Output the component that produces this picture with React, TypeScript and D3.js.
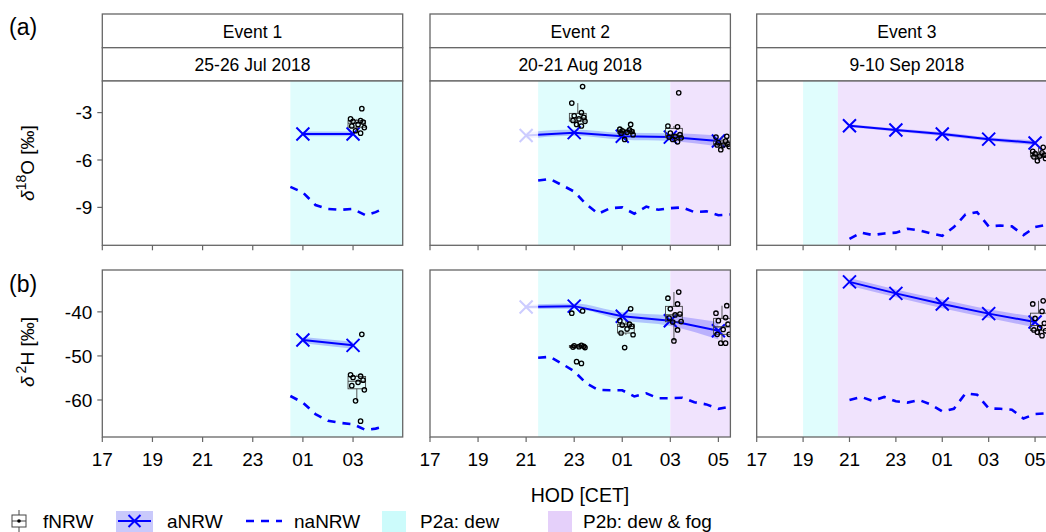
import React from 'react'
import * as d3 from 'd3'

const FONT = 'Liberation Sans, Arial, sans-serif'
const BLUE = '#0000ff'
const DEW = '#e0fdfd'
const FOG = '#f0e3fd'
const FRAME = '#666'

// panels (events)
const EVENTS = ['Event 1', 'Event 2', 'Event 3']
const DATES = ['25-26 Jul 2018', '20-21 Aug 2018', '9-10 Sep 2018']
const X_DOMAINS = [
  [17, 28.98],
  [17, 29.5],
  [17, 29.95],
]
const HOUR_TICKS = [17, 19, 21, 23, 25, 27, 29]
const DEW_START = [24.5, 21.5, 19]
const FOG_START = [null, 27, 20.5]

// y ticks
const O_TICKS = [-3, -6, -9]
const H_TICKS = [-40, -50, -60]

// aNRW (hours after midnight written as 24+)
const ANRW_T = [
  [25, 27],
  [21, 23, 25, 27, 29],
  [21, 23, 25, 27, 29],
]
const ANRW_O = [
  [-4.35, -4.35],
  [-4.45, -4.27, -4.5, -4.55, -4.8],
  [-3.83, -4.1, -4.36, -4.68, -4.92],
]
const ANRW_O_SD = [
  [0.15, 0.15],
  [0.2, 0.2, 0.22, 0.25, 0.35],
  [0.1, 0.1, 0.12, 0.12, 0.15],
]
const ANRW_H = [
  [-46.4, -47.6],
  [-38.9, -38.7, -41.0, -42.0, -44.3],
  [-33.2, -35.8, -38.2, -40.4, -42.3],
]
const ANRW_H_SD = [
  [0.7, 0.8],
  [0.5, 0.6, 0.9, 1.2, 2.0],
  [0.9, 0.9, 1.0, 1.0, 1.2],
]

// naNRW
const NANRW_T = [
  [24.5, 25, 25.5, 26, 26.5, 27, 27.5, 27.9, 28.25],
  [21.5, 22, 22.5, 23, 23.5, 24, 24.5, 25, 25.5, 26, 26.5, 27, 27.5, 28, 28.5, 29, 29.5],
  [21, 21.5, 22, 22.5, 23, 23.5, 24, 24.5, 25, 25.5, 26, 26.5, 27, 27.5, 28, 28.5, 29, 29.5],
]
const NANRW_O = [
  [-7.7, -8.05, -8.85, -9.1, -9.15, -9.1, -9.5, -9.3, -9.05],
  [-7.3, -7.2, -7.6, -8.0, -8.8, -9.4, -9.05, -9.0, -9.4, -8.95, -9.15, -9.05, -9.0, -9.3, -9.25, -9.5, -9.45],
  [-11.0, -10.6, -10.75, -10.65, -10.6, -10.35, -10.45, -10.65, -10.8, -10.25, -9.45, -9.3, -10.2, -10.15, -10.2, -10.75, -10.25, -10.1],
]
const NANRW_H = [
  [-59.1, -60.6, -63.2, -64.7, -65.2, -65.5, -66.8, -66.5, -66.0],
  [-50.4, -50.2, -51.8, -53.5, -56.2, -57.7, -57.8, -57.8, -59.2, -58.5, -59.6, -59.6, -59.5, -60.5, -61.0, -62.0, -61.5],
  [-60.0, -59.3, -60.2, -59.3, -60.3, -60.6, -60.0, -61.0, -62.6, -62.0, -58.5, -58.8, -61.9, -62.0, -62.2, -64.2, -63.2, -63.0],
]

// fNRW samples
const FNRW_O = [
  [{ t: 27, v: [-2.75, -3.4, -3.5, -3.55, -3.6, -3.75, -3.85, -3.95, -4.15, -4.3] }],
  [
    { t: 23, v: [-1.35, -2.4, -3.0, -3.2, -3.3, -3.4, -3.5, -3.55, -3.75, -3.85] },
    { t: 25, v: [-3.75, -4.05, -4.1, -4.15, -4.2, -4.25, -4.3, -4.4, -4.7] },
    { t: 27, v: [-1.75, -3.85, -3.9, -4.3, -4.4, -4.5, -4.55, -4.6, -4.7, -4.85] },
    { t: 29, v: [-4.5, -4.55, -4.8, -4.9, -5.0, -5.05, -5.05, -5.15, -5.35] },
  ],
  [{ t: 29, v: [-5.2, -5.45, -5.55, -5.6, -5.7, -5.75, -5.8, -5.9, -6.05] }],
]
const FNRW_H = [
  [{ t: 27, v: [-45.1, -54.3, -54.6, -54.9, -55.5, -56.0, -56.75, -57.7, -60.2, -64.8] }],
  [
    { t: 23, v: [-39.8, -40.3, -47.6, -47.7, -47.8, -47.9, -48.0, -48.1, -51.3, -51.7] },
    { t: 25, v: [-39.3, -42.0, -42.8, -43.0, -43.3, -43.9, -44.8, -45.2, -48.1] },
    { t: 27, v: [-35.5, -36.9, -38.2, -39.3, -40.5, -40.7, -41.4, -42.2, -42.3, -44.1, -46.6] },
    { t: 29, v: [-38.6, -40.3, -41.3, -42.0, -42.8, -44.0, -45.1, -45.1, -47.1, -47.1] },
  ],
  [{ t: 29, v: [-37.5, -38.2, -39.9, -41.5, -42.6, -43.6, -44.1, -44.3, -44.6, -45.4] }],
]
// horizontal jitter (hours) of the sample points, in order
const JITTER = [0.35, -0.1, 0.3, 0.0, 0.4, 0.2, -0.05, 0.45, 0.1, 0.3, 0.15]

const PANEL_LEFT = [102.3, 430, 756.7]
const PANEL_W = 300.4
const ROWS = [
  { top: 81, bottom: 245.3, domain: [-11.4, -1.0], ticks: O_TICKS, a: ANRW_O, sd: ANRW_O_SD, na: NANRW_O, f: FNRW_O },
  { top: 270, bottom: 437, domain: [-68.4, -30.5], ticks: H_TICKS, a: ANRW_H, sd: ANRW_H_SD, na: NANRW_H, f: FNRW_H },
]

const tickLabel = h => String(h % 24).padStart(2, '0')

function Cross({ x, y, s = 6.5, color = BLUE }) {
  return (
    <path d={`M${x - s},${y - s}L${x + s},${y + s}M${x - s},${y + s}L${x + s},${y - s}`} stroke={color} strokeWidth={2} />
  )
}

function Boxplot({ b, x, y }) {
  const v = [...b.v].sort(d3.ascending)
  const q1 = d3.quantile(v, 0.25)
  const med = d3.quantile(v, 0.5)
  const q3 = d3.quantile(v, 0.75)
  const iqr = q3 - q1
  const lo = d3.min(v.filter(d => d >= q1 - 1.5 * iqr))
  const hi = d3.max(v.filter(d => d <= q3 + 1.5 * iqr))
  const cx = x(b.t + 0.15)
  const hw = x(b.t + 0.35) - x(b.t)
  return (
    <g>
      <line x1={cx} x2={cx} y1={y(hi)} y2={y(q3)} stroke="#444" strokeWidth={0.9} />
      <line x1={cx} x2={cx} y1={y(q1)} y2={y(lo)} stroke="#444" strokeWidth={0.9} />
      <rect x={cx - hw} y={y(q3)} width={2 * hw} height={Math.max(1, y(q1) - y(q3))} fill="none" stroke="#444" strokeWidth={0.9} />
      <line x1={cx - hw} x2={cx + hw} y1={y(med)} y2={y(med)} stroke="#444" strokeWidth={1.2} />
      {b.v.map((d, i) => (
        <circle key={i} cx={x(b.t + JITTER[i % JITTER.length])} cy={y(d)} r={2.2} fill="none" stroke="#000" strokeWidth={1.3} />
      ))}
    </g>
  )
}

function Panel({ p, r }) {
  const row = ROWS[r]
  const left = PANEL_LEFT[p]
  const x = d3.scaleLinear().domain(X_DOMAINS[p]).range([left, left + PANEL_W])
  const y = d3.scaleLinear().domain(row.domain).range([row.bottom, row.top])
  const right = left + PANEL_W
  const h = row.bottom - row.top
  const dewEnd = FOG_START[p] ?? X_DOMAINS[p][1]
  const id = `c${p}${r}`

  const pts = ANRW_T[p].map((t, i) => ({ t, v: row.a[p][i], sd: row.sd[p][i] }))
  const line = d3.line().x(d => x(d.t)).y(d => y(d.v))
  const area = d3.area().x(d => x(d.t)).y0(d => y(d.v - d.sd)).y1(d => y(d.v + d.sd)).curve(d3.curveMonotoneX)
  const naPts = NANRW_T[p].map((t, i) => [t, row.na[p][i]])
  const naLine = d3.line().x(d => x(d[0])).y(d => y(d[1]))
  const split = x(DEW_START[p])

  const aGroup = (
    <g>
      <path d={area(pts)} fill={BLUE} opacity={0.22} />
      <path d={line(pts)} fill="none" stroke={BLUE} strokeWidth={2} />
      {pts.map((d, i) => <Cross key={i} x={x(d.t)} y={y(d.v)} />)}
    </g>
  )

  return (
    <g>
      <defs>
        <clipPath id={`${id}all`}><rect x={left} y={row.top} width={PANEL_W} height={h} /></clipPath>
        <clipPath id={`${id}pre`}><rect x={left} y={row.top} width={Math.max(0, split - left)} height={h} /></clipPath>
        <clipPath id={`${id}in`}><rect x={split} y={row.top} width={right - split} height={h} /></clipPath>
      </defs>
      <rect x={left} y={row.top} width={PANEL_W} height={h} fill="#fff" />
      <rect x={x(DEW_START[p])} y={row.top} width={x(dewEnd) - x(DEW_START[p])} height={h} fill={DEW} />
      {FOG_START[p] != null && (
        <rect x={x(FOG_START[p])} y={row.top} width={right - x(FOG_START[p])} height={h} fill={FOG} />
      )}
      <g clipPath={`url(#${id}all)`}>
        <path d={naLine(naPts)} fill="none" stroke={BLUE} strokeWidth={2.6} strokeDasharray="8 7" />
        <g clipPath={`url(#${id}pre)`} opacity={0.2}>{aGroup}</g>
        <g clipPath={`url(#${id}in)`}>{aGroup}</g>
        {row.f[p].map((b, i) => <Boxplot key={i} b={b} x={x} y={y} />)}
      </g>
      <rect x={left} y={row.top} width={PANEL_W} height={h} fill="none" stroke={FRAME} strokeWidth={1.3} />
      {HOUR_TICKS.filter(t => t <= X_DOMAINS[p][1]).map(t => (
        <g key={t}>
          <line x1={x(t)} x2={x(t)} y1={row.bottom} y2={row.bottom + 5} stroke={FRAME} strokeWidth={1.2} />
          {r === 1 && (
            <text x={x(t)} y={row.bottom + 29} textAnchor="middle" fontSize={19}>{tickLabel(t)}</text>
          )}
        </g>
      ))}
      {p === 0 && row.ticks.map(t => (
        <g key={t}>
          <line x1={left - 5} x2={left} y1={y(t)} y2={y(t)} stroke={FRAME} strokeWidth={1.2} />
          <text x={left - 10} y={y(t)} dy="0.36em" textAnchor="end" fontSize={19}>{t}</text>
        </g>
      ))}
    </g>
  )
}

function Header({ p }) {
  const left = PANEL_LEFT[p]
  const cx = left + PANEL_W / 2
  return (
    <g>
      <rect x={left} y={14} width={PANEL_W} height={33.7} fill="#fff" stroke={FRAME} strokeWidth={1.3} />
      <rect x={left} y={47.7} width={PANEL_W} height={33.3} fill="#fff" stroke={FRAME} strokeWidth={1.3} />
      <text x={cx} y={37.5} textAnchor="middle" fontSize={17.5}>{EVENTS[p]}</text>
      <text x={cx} y={71} textAnchor="middle" fontSize={17.5}>{DATES[p]}</text>
    </g>
  )
}

function Legend() {
  const yc = 521
  return (
    <g fontSize={19}>
      <line x1={19} x2={19} y1={510} y2={533} stroke="#444" strokeWidth={1} />
      <rect x={12} y={515} width={14} height={12} fill="#fff" stroke="#444" strokeWidth={1} />
      <line x1={12} x2={26} y1={yc} y2={yc} stroke="#444" strokeWidth={1} />
      <circle cx={19} cy={yc} r={1.8} fill="#000" />
      <text x={43} y={528}>fNRW</text>

      <rect x={116} y={511} width={37} height={22} fill="#c9c9fb" />
      <line x1={118} x2={151} y1={yc} y2={yc} stroke={BLUE} strokeWidth={2} />
      <Cross x={134.5} y={yc} s={6} />
      <text x={167} y={528}>aNRW</text>

      <line x1={246} x2={282} y1={yc} y2={yc} stroke={BLUE} strokeWidth={2.6} strokeDasharray="8 7" />
      <text x={294} y={528}>naNRW</text>

      <rect x={382} y={511} width={24} height={22} fill="#ccfbfb" />
      <text x={420} y={528}>P2a: dew</text>

      <rect x={548} y={511} width={24} height={22} fill="#e5d0fa" />
      <text x={583} y={528}>P2b: dew &amp; fog</text>
    </g>
  )
}

export default function App() {
  return (
    <svg width={1046} height={532} style={{ position: 'absolute', left: 0, top: 0 }} fontFamily={FONT} fill="#000">
      <rect width={1046} height={532} fill="#fff" />
      {[0, 1, 2].map(p => (
        <g key={p}>
          <Header p={p} />
          <Panel p={p} r={0} />
          <Panel p={p} r={1} />
        </g>
      ))}
      <text x={9} y={35} fontSize={23}>(a)</text>
      <text x={9} y={292} fontSize={23}>(b)</text>
      <text transform="rotate(-90)" x={-163} y={34} textAnchor="middle" fontSize={19}>
        <tspan fontStyle="italic">δ</tspan>
        <tspan dy={-8} fontSize={14}>18</tspan>
        <tspan dy={8}>O [‰]</tspan>
      </text>
      <text transform="rotate(-90)" x={-352} y={34} textAnchor="middle" fontSize={19}>
        <tspan fontStyle="italic">δ</tspan>
        <tspan dx={3} dy={-8} fontSize={14}>2</tspan>
        <tspan dy={8}>H [‰]</tspan>
      </text>
      <text x={580} y={502} textAnchor="middle" fontSize={19.5}>HOD [CET]</text>
      <Legend />
    </svg>
  )
}
